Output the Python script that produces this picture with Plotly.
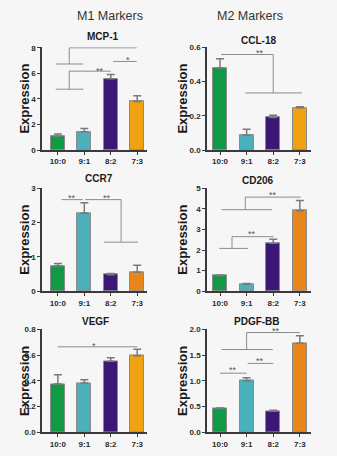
import plotly.graph_objects as go

categories = ["10:0", "9:1", "8:2", "7:3"]

mcp1 = [1.08, 1.43, 5.58, 3.80]
mcp1_err = [0.17, 0.25, 0.33, 0.45]
ccl18 = [0.478, 0.087, 0.190, 0.246]
ccl18_err = [0.054, 0.035, 0.013, 0.006]
ccr7 = [0.74, 2.27, 0.48, 0.55]
ccr7_err = [0.07, 0.31, 0.04, 0.21]
cd206 = [0.75, 0.34, 2.33, 3.91]
cd206_err = [0.03, 0.03, 0.19, 0.50]
vegf = [0.376, 0.384, 0.552, 0.596]
vegf_err = [0.072, 0.026, 0.028, 0.051]
pdgf = [0.46, 1.00, 0.41, 1.73]
pdgf_err = [0.012, 0.06, 0.02, 0.15]

titles = ["MCP-1", "CCL-18", "CCR7", "CD206", "VEGF", "PDGF-BB"]
y_ranges = [[0, 8.05], [0, 0.6], [0, 3], [0, 5], [0, 0.8], [0, 2.0]]
y_dticks = [2, 0.2, 1, 1, 0.2, 0.5]
y_formats = ["d", ".1f", "d", "d", ".1f", ".1f"]

GREEN, TEAL, PURPLE = "#119a46", "#4ab1ba", "#3b1776"
ORANGE_Y, ORANGE_R = "#f0a212", "#e8861c"
panel_colors = [
    [GREEN, TEAL, PURPLE, ORANGE_Y],
    [GREEN, TEAL, PURPLE, ORANGE_Y],
    [GREEN, TEAL, PURPLE, ORANGE_R],
    [GREEN, TEAL, PURPLE, ORANGE_R],
    [GREEN, TEAL, PURPLE, ORANGE_Y],
    [GREEN, TEAL, PURPLE, ORANGE_R],
]

# significance brackets: segments (x0, y0, x1, y1) in data units, and star labels
brackets = [
    [(-0.08, 6.73, 0.96, 6.73), (0.43, 6.73, 0.43, 8.0), (0.43, 8.0, 2.98, 8.0),
     (-0.08, 4.76, 0.96, 4.76), (0.43, 4.76, 0.43, 6.17), (0.43, 6.17, 2.0, 6.17),
     (2.09, 6.93, 2.98, 6.93)],
    [(0.04, 0.557, 2.0, 0.557), (2.0, 0.557, 2.0, 0.333), (0.95, 0.333, 3.08, 0.333)],
    [(0.14, 2.67, 0.94, 2.67), (1.03, 2.67, 2.39, 2.67), (2.39, 2.67, 2.39, 1.43),
     (1.75, 1.43, 3.03, 1.43)],
    [(0.95, 4.57, 3.03, 4.57), (0.95, 4.57, 0.95, 3.96), (0.06, 3.96, 1.95, 3.96),
     (0.45, 2.65, 2.02, 2.65), (0.45, 2.65, 0.45, 2.08), (-0.03, 2.08, 1.05, 2.08)],
    [(0.0, 0.665, 3.0, 0.665)],
    [(1.0, 1.94, 3.0, 1.94), (1.0, 1.94, 1.0, 1.61), (0.06, 1.61, 1.98, 1.61),
     (0.0, 1.15, 1.0, 1.15), (1.04, 1.34, 2.0, 1.34)],
]
stars = [
    [(1.84, 8.15, "**"), (1.59, 6.37, "**"), (2.66, 7.18, "*")],
    [(1.5, 0.58, "**")],
    [(0.52, 2.77, "**"), (1.85, 2.77, "**")],
    [(1.99, 4.79, "**"), (1.21, 2.87, "**")],
    [(1.38, 0.69, "*")],
    [(2.12, 2.0, "**"), (0.48, 1.245, "**"), (1.52, 1.43, "**")],
]

values = [mcp1, ccl18, ccr7, cd206, vegf, pdgf]
errors = [mcp1_err, ccl18_err, ccr7_err, cd206_err, vegf_err, pdgf_err]

W, H = 337, 456
# pixel geometry of plot areas
col_px = [(42, 147), (207, 311)]
row_px = [(44, 149), (188, 293), (332, 437)]
x_ranges = [[-0.6, 3.37], [-0.49, 3.42]]
title_px = [(103, 33), (258, 37), (99, 178), (258, 180), (95, 324), (257, 324)]
ytitle_x = [25, 183]

FONT = "Arial, Liberation Sans, sans-serif"
AX = "#3a3a3a"

fig = go.Figure()
annotations = []
shapes = []


def paper_text(px, py, text, size, color, angle=0):
    return dict(x=px / W, y=1 - py / H, xref="paper", yref="paper", text=text,
                xanchor="center", yanchor="middle", showarrow=False, textangle=angle,
                font=dict(family=FONT, size=size, color=color))


for i in range(6):
    r, c = divmod(i, 2)
    n = i + 1
    xa = "x" if n == 1 else f"x{n}"
    ya = "y" if n == 1 else f"y{n}"
    fig.add_trace(go.Bar(
        x=list(range(4)), y=values[i], xaxis=xa, yaxis=ya, width=0.53,
        marker=dict(color=panel_colors[i], line=dict(color="#8a8a8a", width=1)),
        error_y=dict(type="data", symmetric=False, array=errors[i],
                     arrayminus=[0] * 4, color="#7a7a7a", thickness=1.5, width=4),
        showlegend=False,
    ))
    x0, x1 = col_px[c]
    y0, y1 = row_px[r]
    fig.layout[f"xaxis{'' if n == 1 else n}"] = dict(
        domain=[x0 / W, x1 / W], range=x_ranges[c], anchor=ya,
        tickvals=list(range(4)), ticktext=categories, ticks="outside", ticklen=3,
        tickwidth=1.2, tickcolor=AX, showline=True, linecolor=AX, linewidth=1.5,
        showgrid=False, zeroline=False, fixedrange=True,
        tickfont=dict(family=FONT, size=8, color="#2a2a2a", weight="bold"),
    )
    fig.layout[f"yaxis{'' if n == 1 else n}"] = dict(
        domain=[1 - y1 / H, 1 - y0 / H], range=y_ranges[i], anchor=xa,
        dtick=y_dticks[i], tick0=0, tickformat=y_formats[i], ticks="outside",
        ticklen=3, tickwidth=1.2, tickcolor=AX, showline=True, linecolor=AX,
        linewidth=1.5, showgrid=False, zeroline=False, fixedrange=True,
        tickfont=dict(family=FONT, size=8, color="#2a2a2a", weight="bold"),
    )
    for (a, b, cc, d) in brackets[i]:
        shapes.append(dict(type="line", xref=xa, yref=ya, x0=a, y0=b, x1=cc, y1=d,
                           line=dict(color="#8c8c8c", width=1)))
    for (sx, sy, st) in stars[i]:
        annotations.append(dict(x=sx, y=sy, xref=xa, yref=ya, text=st, showarrow=False,
                                xanchor="center", yanchor="middle", yshift=-2,
                                font=dict(family=FONT, size=9, color="#555")))
    tx, ty = title_px[i]
    annotations.append(paper_text(tx, ty, f"<b>{titles[i]}</b>", 10, "#1a1a1a"))
    annotations.append(paper_text(ytitle_x[c], (y0 + y1) / 2, "<b>Expression</b>",
                                  13, "#1a1a1a", angle=-90))

annotations.append(paper_text(110, 12, "M1 Markers", 12.5, "#333"))
annotations.append(paper_text(250, 12, "M2 Markers", 12.5, "#333"))

fig.update_layout(
    width=W, height=H, margin=dict(l=0, r=0, t=0, b=0),
    paper_bgcolor="#f6f6f6", plot_bgcolor="rgba(0,0,0,0)",
    annotations=annotations, shapes=shapes, bargap=0,
)
fig.write_html("out.html", config={"displayModeBar": False})
